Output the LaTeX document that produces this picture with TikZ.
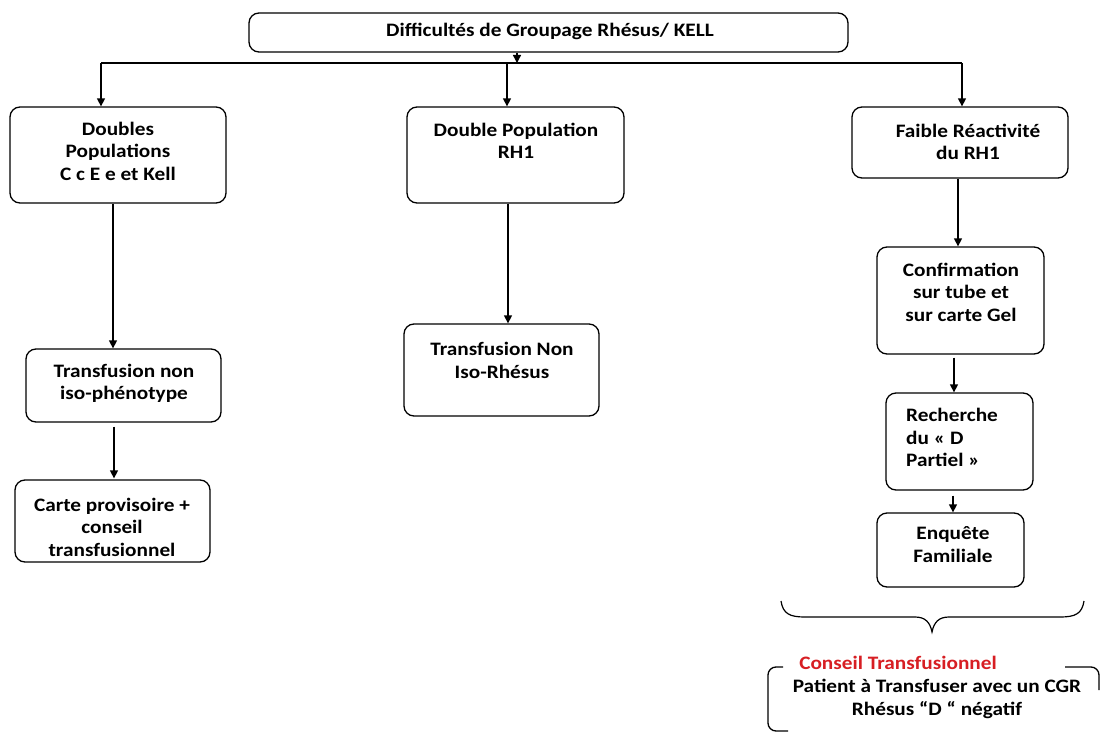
\documentclass[tikz,border=0pt]{standalone}
\usepackage{fontspec}
\setmainfont{Carlito}[FakeStretch=1.12]
\usetikzlibrary{arrows.meta}
\definecolor{conseilred}{RGB}{215,30,35}
\begin{document}
\begin{tikzpicture}[x=1pt,y=-1pt,
  box/.style={draw, line width=1.3pt, rounded corners=10pt, inner sep=0pt},
  txt/.style={font=\fontsize{19}{22.5}\selectfont\bfseries, align=center, inner sep=0pt},
  arr/.style={-{Triangle[length=8pt,width=8pt]}, line width=1.4pt},
  ln/.style={line width=1.4pt}]
\useasboundingbox (0,0) rectangle (1101,733);
\fill[white] (0,0) rectangle (1101,733);

% boxes
\node[box, minimum width=599pt, minimum height=39pt] (T) at (548.5,32.5) {};
\node[box, minimum width=216pt, minimum height=96pt] (b1) at (118,155) {};
\node[box, minimum width=217pt, minimum height=96pt] (b2) at (515.5,155) {};
\node[box, minimum width=216pt, minimum height=71pt] (b3) at (960,142.5) {};
\node[box, minimum width=195pt, minimum height=73pt] (b4) at (123.5,385.5) {};
\node[box, minimum width=195pt, minimum height=82pt] (b5) at (112.5,521) {};
\node[box, minimum width=195pt, minimum height=92pt] (b6) at (501.5,370) {};
\node[box, minimum width=167pt, minimum height=107pt] (b7) at (960.5,300.5) {};
\node[box, minimum width=147pt, minimum height=97pt] (b8) at (959.5,441.5) {};
\node[box, minimum width=147pt, minimum height=74pt] (b9) at (950.5,550) {};

% texts
\node[txt] (tT) at (550,31) {Difficultés de Groupage Rhésus/ KELL};
\node[txt] (t1) at (118,151) {Doubles\\Populations\\C c E e et Kell};
\node[txt] (t2) at (516,141) {Double Population\\RH1};
\node[txt] (t3) at (968,142) {Faible Réactivité\\du RH1};
\node[txt] (t4) at (124,383.5) {Transfusion non\\iso-phénotype};
\node[txt] (t5) at (112,527) {Carte provisoire +\\conseil\\transfusionnel};
\node[txt] (t6) at (502,360.5) {Transfusion Non\\Iso-Rhésus};
\node[txt] (t7) at (961,292) {Confirmation\\sur tube et\\sur carte Gel};
\node[txt, align=left, anchor=west] (t8) at (906,437.5) {Recherche\\du « D\\Partiel »};
\node[txt] (t9) at (953,544.5) {Enquête\\Familiale};
\node[txt, text=conseilred] (tc) at (898,663) {Conseil Transfusionnel};
\node[txt] (tp) at (937,699) {Patient à Transfuser avec un CGR\\Rhésus “D “ négatif};

% bus
\coordinate (bl) at (101,63);
\coordinate (bm) at (507,63);
\coordinate (bt) at (517,63);
\coordinate (br) at (962,63);
\draw[ln] (bl) -- (br);
\draw[arr] (T.south -| bt) -- (bt);
\draw[arr] (bl) -- (b1.north -| bl);
\draw[arr] (bm) -- (b2.north -| bm);
\draw[arr] (br) -- (b3.north -| br);

% vertical connectors
\coordinate (x1) at (113,0);
\coordinate (x2) at (114,0);
\coordinate (x3) at (508,0);
\coordinate (x4) at (958,0);
\coordinate (x5) at (954,0);
\coordinate (x6) at (953,0);
\draw[arr] (b1.south -| x1) -- (b4.north -| x1);
\draw[arr, shorten <=4pt, shorten >=1pt] (b4.south -| x2) -- (b5.north -| x2);
\draw[arr] (b2.south -| x3) -- (b6.north -| x3);
\draw[arr] (b3.south -| x4) -- (b7.north -| x4);
\draw[arr, shorten <=3pt] (b7.south -| x5) -- (b8.north -| x5);
\draw[arr, shorten <=5pt] (b8.south -| x6) -- (b9.north -| x6);

% brace
\draw[line width=1.2pt] (781,601) .. controls (783,614) and (790,617) .. (805,617) -- (915,617)
  .. controls (925,617) and (930,622) .. (932,632)
  .. controls (934,622) and (939,617) .. (949,617) -- (1060,617)
  .. controls (1075,617) and (1082,614) .. (1084,601);

% open frame of the advice
\draw[line width=1.3pt, rounded corners=8pt] (783,667) -- (768,667) -- (768,731) -- (788,731);
\draw[line width=1.3pt, rounded corners=8pt] (1065,667) -- (1099,667) -- (1099,690);
\end{tikzpicture}
\end{document}
